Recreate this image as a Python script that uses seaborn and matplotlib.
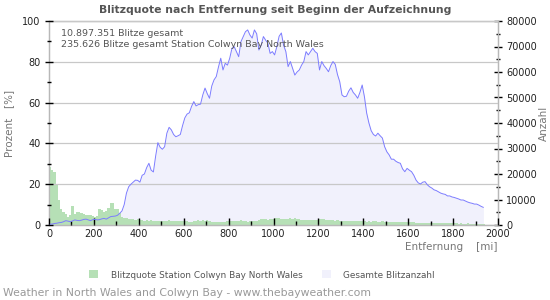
import numpy as np
import pandas as pd
import matplotlib
matplotlib.use("Agg")
import matplotlib.pyplot as plt
from matplotlib.patches import Patch
from matplotlib.ticker import MultipleLocator
import seaborn as sns

# ---------------- data ----------------
bin_width_mi = 10
# Blitzquote Station Colwyn Bay North Wales [%] per 10-mile bin, starting at 0 mi
quote_pct = [
    28.5, 27.0, 26.0, 20.0, 12.5, 8.0, 6.5, 5.5, 4.0, 5.0,
    9.3, 5.5, 6.5, 6.3, 6.0, 5.3, 5.0, 5.0, 4.8, 4.3,
    4.0, 4.5, 7.6, 7.2, 6.3, 7.0, 8.5, 11.0, 10.8, 8.0,
    7.6, 5.8, 4.0, 3.5, 3.3, 3.0, 2.8, 2.9, 2.5, 2.7,
    2.4, 2.6, 2.2, 2.4, 2.0, 2.3, 2.1, 1.9, 2.2, 2.0,
    2.1, 1.8, 2.0, 2.3, 1.9, 2.0, 2.1, 2.2, 1.8, 2.0,
    2.1, 1.8, 1.6, 1.5, 1.9, 2.2, 2.3, 2.1, 2.4, 2.2,
    2.3, 1.8, 1.5, 1.4, 1.5, 1.6, 1.5, 1.4, 1.6, 1.9,
    2.0, 2.1, 1.9, 2.0, 1.8, 2.3, 2.2, 1.8, 1.7, 1.9,
    2.0, 1.8, 2.0, 2.6, 2.8, 2.7, 2.9, 2.6, 2.8, 2.9,
    3.4, 3.3, 3.5, 2.9, 2.8, 2.7, 2.9, 3.2, 3.1, 3.3,
    2.9, 2.8, 2.6, 2.4, 2.5, 2.3, 2.4, 2.6, 2.5, 2.4,
    2.8, 2.7, 2.9, 2.6, 2.5, 2.3, 2.4, 2.2, 2.3, 2.0,
    2.1, 1.9, 2.0, 2.2, 1.8, 1.9, 2.1, 2.0, 1.8, 1.9,
    2.0, 1.7, 1.8, 1.6, 1.9, 1.8, 1.7, 1.5, 1.8, 1.6,
    1.7, 1.5, 1.6, 1.4, 1.6, 1.7, 1.5, 1.4, 1.6, 1.5,
    1.6, 1.4, 1.3, 1.2, 1.1, 1.0, 1.2, 1.0, 0.9, 1.1,
    1.0, 0.9, 1.1, 1.0, 0.8, 1.0, 0.9, 0.8, 1.0, 0.9,
    0.8, 0.9, 0.7, 0.8, 0.6, 0.7, 0.8, 0.6, 0.7, 0.5,
    0.7, 0.6, 0.5, 0.6,
]
# Gesamte Blitzanzahl per 10-mile bin, in thousands
total_k = [
    0.3, 0.4, 0.6, 0.7, 0.9, 1.0, 1.3, 1.7, 1.5, 1.3,
    1.6, 2.0, 1.8, 1.7, 1.9, 2.2, 2.3, 2.0, 1.7, 2.1,
    2.2, 2.0, 2.1, 2.4, 2.6, 2.3, 2.8, 3.3, 3.4, 3.5,
    3.8, 4.6, 5.5, 8.0, 12.5, 15.0, 16.0, 16.8, 17.6, 17.5,
    16.8, 19.5, 20.0, 22.5, 24.2, 21.5, 20.8, 27.0, 32.3, 30.5,
    29.7, 30.7, 36.0, 38.3, 37.3, 35.5, 34.6, 35.0, 35.5, 39.0,
    42.0, 43.5, 44.0, 46.5, 48.4, 46.7, 47.2, 47.4, 51.0, 53.7,
    51.5, 49.7, 54.5, 56.9, 58.2, 62.0, 65.4, 60.8, 63.4, 62.7,
    65.4, 69.3, 69.9, 68.0, 66.0, 71.9, 73.9, 75.8, 76.5, 74.5,
    73.3, 76.5, 75.0, 68.6, 70.5, 73.9, 72.5, 71.3, 67.3, 68.0,
    66.7, 70.0, 74.0, 75.3, 70.5, 68.0, 62.1, 64.1, 61.5, 58.8,
    60.0, 60.8, 62.7, 64.1, 68.0, 66.7, 68.0, 69.3, 68.0, 67.3,
    60.8, 64.1, 62.5, 61.4, 60.1, 62.5, 64.1, 63.0, 59.0, 56.2,
    51.0, 50.3, 50.5, 52.5, 53.8, 52.0, 51.0, 49.7, 52.0, 54.9,
    50.3, 43.9, 40.0, 37.0, 35.5, 34.9, 36.0, 35.0, 34.1, 30.7,
    28.7, 27.5, 25.8, 25.8, 25.0, 24.5, 24.2, 22.0, 20.9, 22.2,
    21.5, 20.9, 19.5, 17.6, 16.5, 16.1, 16.8, 17.0, 15.8, 15.0,
    14.5, 13.8, 13.5, 13.0, 12.5, 12.2, 12.0, 11.4, 11.4, 11.0,
    10.8, 10.5, 10.2, 9.8, 9.8, 9.4, 9.0, 8.7, 8.5, 8.2,
    8.2, 7.8, 7.3, 6.9,
]
x_ticks = [0, 200, 400, 600, 800, 1000, 1200, 1400, 1600, 1800, 2000]
pct_ticks = [0, 20, 40, 60, 80, 100]
cnt_ticks = [0, 10000, 20000, 30000, 40000, 50000, 60000, 70000, 80000]

title = "Blitzquote nach Entfernung seit Beginn der Aufzeichnung"
info_lines = ["10.897.351 Blitze gesamt",
              "235.626 Blitze gesamt Station Colwyn Bay North Wales"]
legend_labels = ["Blitzquote Station Colwyn Bay North Wales", "Gesamte Blitzanzahl"]
footer = "Weather in North Wales and Colwyn Bay - www.thebayweather.com"

# ---------------- derived ----------------
n = len(quote_pct)
edges = np.arange(n + 1) * bin_width_mi
centers = edges[:-1] + bin_width_mi / 2
df = pd.DataFrame({"dist": centers,
                   "pct": quote_pct,
                   "total": np.array(total_k) * 1000})

# ---------------- style ----------------
sns.set_theme(style="white")
plt.rcParams["font.family"] = ["DejaVu Sans"]

green = "#b6e0b6"
lav_fill = "#f1f1fc"
line_col = "#7c7cff"
grid_col = "#c8c8c8"
spine_col = "#b8b8b8"
tick_lbl = "#222222"
lbl_col = "#777777"

fig = plt.figure(figsize=(5.5, 3.0), dpi=100)
L, R, T, B = 49 / 550, 498 / 550, 1 - 21 / 300, 1 - 225 / 300
ax = fig.add_axes([L, B, R - L, T - B])
ax2 = ax.twinx()   # counts: fill (behind)
ax3 = ax.twinx()   # counts: line (front)

ax2.set_zorder(1)
ax.set_zorder(2)
ax3.set_zorder(3)
ax.patch.set_visible(False)
ax3.patch.set_visible(False)
ax2.patch.set_facecolor("white")

# fill of total counts
ax2.fill_between(df["dist"], df["total"], 0, color=lav_fill, linewidth=0)

# bars of rate
sns.histplot(data=df, x="dist", weights="pct", bins=list(edges), ax=ax, color=green,
             alpha=1.0, linewidth=0, element="bars", fill=True)

# line of total counts
sns.lineplot(data=df, x="dist", y="total", ax=ax3, color=line_col, linewidth=0.7)

for a in (ax, ax2, ax3):
    a.set_xlim(0, 2000)
ax.set_ylim(0, 100)
ax2.set_ylim(0, 80000)
ax3.set_ylim(0, 80000)
ax3.set_axis_off()

# grid on percent axis
ax.yaxis.grid(True, color=grid_col, linewidth=0.9)
ax.xaxis.grid(False)
ax.set_axisbelow(False)
ax2.grid(False)

# ticks
ax.set_xticks(x_ticks)
ax.xaxis.set_minor_locator(MultipleLocator(100))
ax.set_yticks(pct_ticks)
ax.yaxis.set_minor_locator(MultipleLocator(10))
ax2.set_yticks(cnt_ticks)
ax2.yaxis.set_minor_locator(MultipleLocator(5000))

ax.tick_params(axis="x", which="major", direction="in", length=5, width=1,
               color="black", labelsize=7, labelcolor=tick_lbl, pad=3, bottom=True)
ax.tick_params(axis="x", which="minor", direction="in", length=3, width=1,
               color="black", bottom=True)
ax.tick_params(axis="y", which="major", direction="inout", length=6, width=1,
               color="black", labelsize=7, labelcolor=tick_lbl, pad=3, left=True)
ax.tick_params(axis="y", which="minor", direction="inout", length=3, width=1,
               color="black", left=True)
ax2.tick_params(axis="y", which="major", direction="inout", length=6, width=1,
                color="black", labelsize=7, labelcolor=tick_lbl, pad=3, right=True)
ax2.tick_params(axis="y", which="minor", direction="inout", length=3, width=1,
                color="black", right=True)
ax2.tick_params(axis="x", bottom=False, labelbottom=False)

for a in (ax, ax2):
    for s in a.spines.values():
        s.set_color(spine_col)
        s.set_linewidth(0.9)

# labels
ax.set_ylabel("Prozent   [%]", fontsize=7.5, color=lbl_col, labelpad=6)
ax2.set_ylabel("Anzahl", fontsize=7.5, color=lbl_col, labelpad=1)
ax.set_xlabel("Entfernung    [mi]", fontsize=7.5, color=lbl_col, loc="right", labelpad=2)

fig.text(0.5, 1 - 10 / 300, title, ha="center", va="center",
         fontsize=7.8, fontweight="bold", color="#555555")
fig.text(61 / 550, 1 - 34 / 300, info_lines[0], ha="left", va="center",
         fontsize=6.8, color="#555555")
fig.text(61 / 550, 1 - 44 / 300, info_lines[1], ha="left", va="center",
         fontsize=6.8, color="#555555")

handles = [Patch(facecolor=green, edgecolor="none"),
           Patch(facecolor=lav_fill, edgecolor="none")]
leg = fig.legend(handles, legend_labels, loc="center", ncol=2,
                 bbox_to_anchor=(262 / 550, 1 - 275 / 300), frameon=False,
                 fontsize=6.4, handlelength=1.0, handleheight=1.0,
                 handletextpad=1.4, columnspacing=2.2)
for t in leg.get_texts():
    t.set_color("#555555")

fig.text(3 / 550, 1 - 293 / 300, footer, ha="left", va="center",
         fontsize=7.8, color="#999999")

fig.savefig("out.png", dpi=100)
